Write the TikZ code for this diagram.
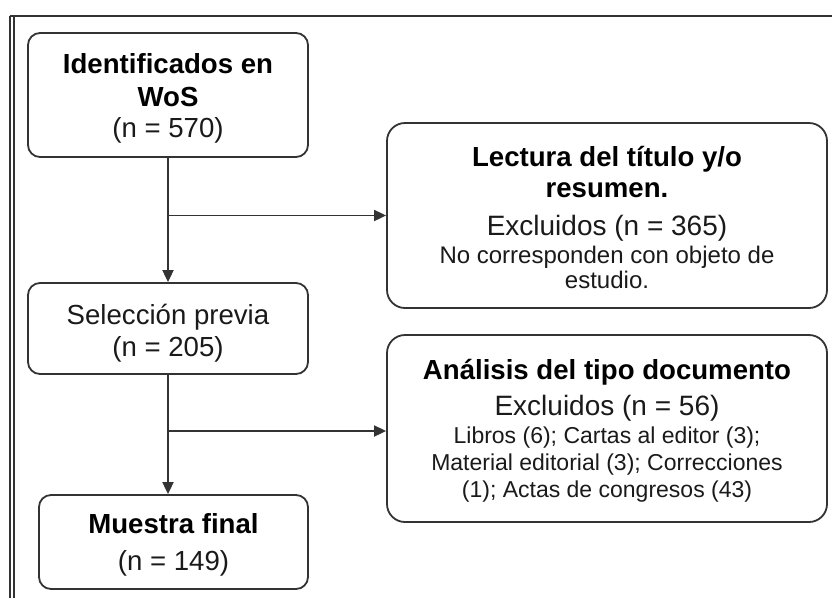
\documentclass[tikz,border=0pt]{standalone}
\usepackage{fontspec}
\setmainfont{Liberation Sans}
\usetikzlibrary{arrows.meta}
\definecolor{linecol}{HTML}{333333}
\definecolor{txtcol}{HTML}{1A1A1A}
\tikzset{
  box/.style={draw=linecol, line width=1.8pt, rounded corners=12pt, inner sep=0pt},
  bigbox/.style={box, rounded corners=18pt},
  conn/.style={draw=linecol, line width=1.8pt},
  arr/.style={conn, -{Triangle[length=12pt,width=11pt]}},
  tb/.style={anchor=base, font=\fontsize{27.6}{31}\selectfont\bfseries, text=black, inner sep=0pt},
  tr/.style={anchor=base, font=\fontsize{27.6}{31}\selectfont, text=txtcol, inner sep=0pt},
  ts/.style={anchor=base, font=\fontsize{24}{26}\selectfont, text=txtcol, inner sep=0pt},
  tt/.style={anchor=base, font=\fontsize{23}{26}\selectfont, text=txtcol, inner sep=0pt},
  frame/.style={draw=linecol},
}
\begin{document}
\begin{tikzpicture}[x=1pt,y=-1pt]
\useasboundingbox[fill=white] (0,0) rectangle (832,598);
% frame
\draw[frame, line width=2.2pt] (9.5,16) -- (832,16);
\draw[frame, line width=1.5pt] (10,16) -- (10,598);
\draw[frame, line width=1.5pt] (14,17) -- (14,598);
% boxes
\node[box, minimum width=280pt, minimum height=124pt] (b1) at (168,95) {};
\node[bigbox, minimum width=440pt, minimum height=185pt] (b2) at (607,215.5) {};
\node[box, minimum width=280pt, minimum height=91pt] (b3) at (168,328.5) {};
\node[bigbox, minimum width=440pt, minimum height=187pt] (b4) at (607,428.5) {};
\node[box, minimum width=269pt, minimum height=94pt] (b5) at (173.5,542) {};
% box 1 text
\node[tb] (t1a) at (168,73) {Identificados en};
\node[tb] (t1b) at (168,106) {WoS};
\node[tr] (t1c) at (168,137) {(n = 570)};
% box 2 text
\node[tb] (t2a) at (607,166) {Lectura del título y/o};
\node[tb] (t2b) at (607,197) {resumen.};
\node[tr, font=\fontsize{28}{31}\selectfont] (t2c) at (607,235) {Excluidos (n = 365)};
\node[ts] (t2d) at (607,263) {No corresponden con objeto de};
\node[ts] (t2e) at (607,288) {estudio.};
% box 3 text
\node[tr] (t3a) at (168,324) {Selección previa};
\node[tr] (t3b) at (168,356) {(n = 205)};
% box 4 text
\node[tb] (t4a) at (607,379) {Análisis del tipo documento};
\node[tr, font=\fontsize{28}{31}\selectfont] (t4b) at (607,415) {Excluidos (n = 56)};
\node[tt] (t4c) at (607,443) {Libros (6); Cartas al editor (3);};
\node[tt] (t4d) at (607,470) {Material editorial (3); Correcciones};
\node[tt] (t4e) at (607,497) {(1); Actas de congresos (43)};
% box 5 text
\node[tb] (t5a) at (173.5,533) {Muestra final};
\node[tr] (t5b) at (173.5,570) {(n = 149)};
% connectors
\draw[arr] (b1.south) -- (b3.north);
\coordinate (j1) at (b1.south |- b2.west);
\draw[arr] (j1) -- (b2.west);
\draw[arr] (b3.south) -- (b3.south |- b5.north);
\coordinate (j2) at (168,431);
\draw[arr] (j2) -- (j2 -| b4.west);
\end{tikzpicture}
\end{document}
